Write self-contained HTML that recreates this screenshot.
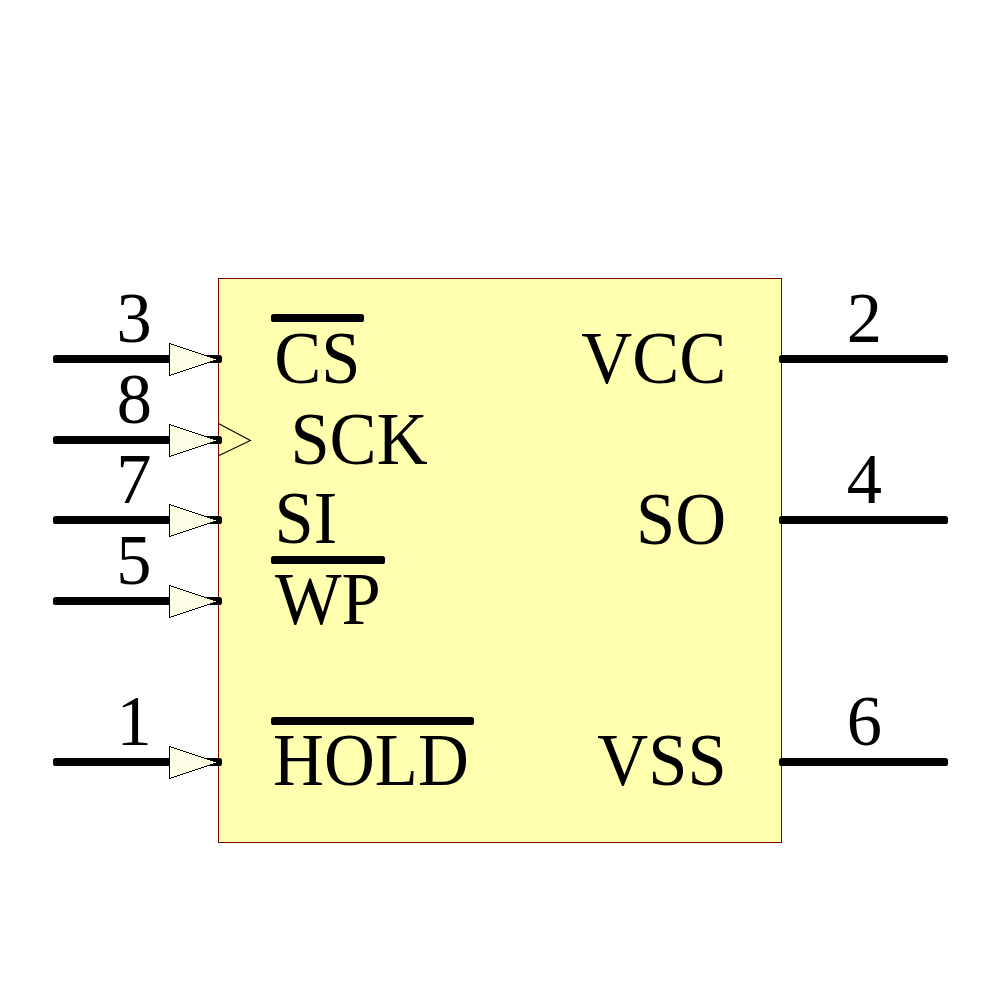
<!DOCTYPE html>
<html><head><meta charset="utf-8">
<style>
html,body{margin:0;padding:0;background:#fff;}
body{width:1000px;height:1000px;overflow:hidden;}
svg{display:block;}
text{font-family:"Liberation Serif",serif;fill:#000;font-size:73px;}
</style></head><body>
<svg width="1000" height="1000" viewBox="0 0 1000 1000">
<rect x="0" y="0" width="1000" height="1000" fill="#ffffff"/>
<rect x="218.5" y="278.5" width="563" height="564" fill="#ffffb0" stroke="#800000" stroke-width="1" shape-rendering="crispEdges"/>
<g fill="#000">
<rect x="53" y="355" width="169" height="8" rx="2.6"/>
<rect x="53" y="436" width="169" height="8" rx="2.6"/>
<rect x="53" y="516" width="169" height="8" rx="2.6"/>
<rect x="53" y="597" width="169" height="8" rx="2.6"/>
<rect x="53" y="758" width="169" height="8" rx="2.6"/>
<rect x="779" y="355" width="169" height="8" rx="2.6"/>
<rect x="779" y="516" width="169" height="8" rx="2.6"/>
<rect x="779" y="758" width="169" height="8" rx="2.6"/>
<rect x="271" y="314" width="93" height="8" rx="2.6"/>
<rect x="271" y="556" width="114" height="8" rx="2.6"/>
<rect x="271" y="717" width="203" height="8" rx="2.6"/>
</g>
<g stroke="#000" stroke-width="1" fill="#ffffe8" shape-rendering="crispEdges">
<polygon points="169.5,343.5 169.5,375.5 217.5,359.5"/>
<polygon points="169.5,424.5 169.5,456.5 217.5,440.5"/>
<polygon points="169.5,504.5 169.5,536.5 217.5,520.5"/>
<polygon points="169.5,585.5 169.5,617.5 217.5,601.5"/>
<polygon points="169.5,746.5 169.5,778.5 217.5,762.5"/>
</g>
<polyline points="218.5,423.4 250.4,440.5 218.5,455.8" fill="none" stroke="#000" stroke-width="1.1"/>
<text transform="translate(274.2,382.5) scale(0.966,1)">CS</text>
<text transform="translate(290.4,463.5) scale(0.966,1)">SCK</text>
<text transform="translate(274.6,543.3) scale(0.966,1)">SI</text>
<text transform="translate(275,624.3) scale(0.966,1)">WP</text>
<text transform="translate(273,785.4) scale(0.966,1)">HOLD</text>
<text transform="translate(581.3,382.5) scale(0.966,1)">VCC</text>
<text transform="translate(636,543.5) scale(0.966,1)">SO</text>
<text transform="translate(597.3,785.4) scale(0.966,1)">VSS</text>
<text transform="translate(116.5,342.4) scale(0.966,0.99)">3</text>
<text transform="translate(116.8,423.4) scale(0.966,0.99)">8</text>
<text transform="translate(116.3,503.4) scale(0.966,0.99)">7</text>
<text transform="translate(116.3,584.4) scale(0.966,0.99)">5</text>
<text transform="translate(116.5,745.4) scale(0.966,0.99)">1</text>
<text transform="translate(846.7,342.4) scale(0.966,0.99)">2</text>
<text transform="translate(846.7,503.4) scale(0.966,0.99)">4</text>
<text transform="translate(846.7,745.4) scale(0.966,0.99)">6</text>
</svg>
</body></html>
